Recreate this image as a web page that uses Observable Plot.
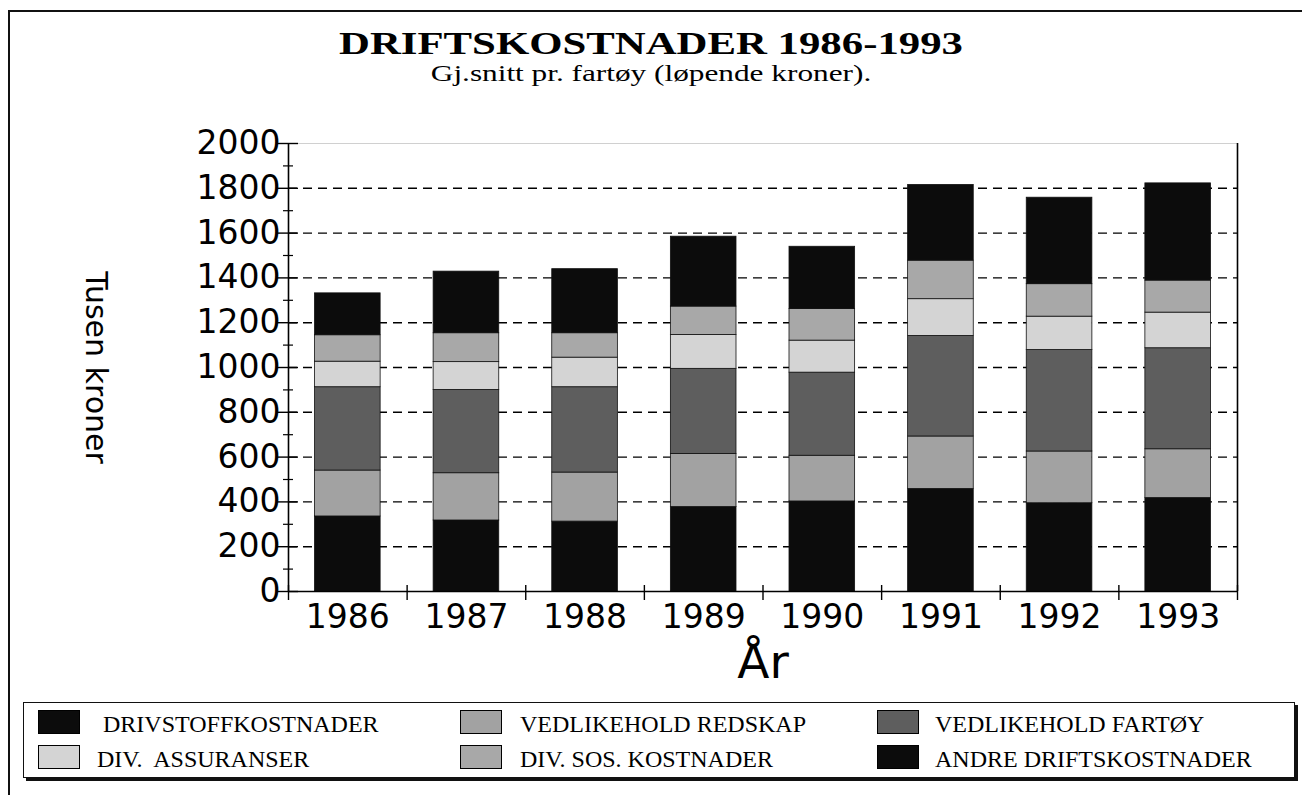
<!DOCTYPE html>
<html>
<head>
<meta charset="utf-8">
<script src="https://cdn.jsdelivr.net/npm/d3@7"></script>
<script src="https://cdn.jsdelivr.net/npm/@observablehq/plot@0.6"></script>
<style>
  html, body { margin: 0; padding: 0; background: #fff; }
  #wrap { position: relative; width: 1302px; height: 795px; overflow: hidden; }
  #outer { position: absolute; left: 8px; top: 10px; width: 1400px; height: 900px; border-left: 2px solid #111; border-top: 2px solid #111; }
  #title { position: absolute; left: 0; width: 1302px; top: 28px; text-align: center; font-family: "Liberation Serif", serif; font-weight: bold; font-size: 31px; line-height: 1; color: #000; transform: scaleX(1.38); transform-origin: 651px 0; }
  #subtitle { position: absolute; left: 0; width: 1302px; top: 62px; text-align: center; font-family: "Liberation Serif", serif; font-size: 23px; line-height: 1; color: #000; transform: scaleX(1.36); transform-origin: 651px 0; }
  #chart { position: absolute; left: 0; top: 0; }
  #chart svg { overflow: visible; }
  #legend { position: absolute; left: 23px; top: 702px; width: 1270px; height: 74px; border: 1.5px solid #111; box-shadow: 3px 3px 0 #111; background: #fff; }
  .sw { position: absolute; width: 42px; height: 24px; border: 1px solid #000; box-sizing: border-box; }
  .lt { position: absolute; font-family: "Liberation Serif", serif; font-size: 24px; line-height: 1; color: #000; white-space: pre; }
</style>
</head>
<body>
<div id="wrap">
  <div id="outer"></div>
  <div id="chart"></div>
  <div id="title">DRIFTSKOSTNADER 1986-1993</div>
  <div id="subtitle">Gj.snitt pr. fartøy (løpende kroner).</div>
  <div id="legend"></div>
</div>
<script>
// ---- data (tusen kroner) ----
const years = [1986, 1987, 1988, 1989, 1990, 1991, 1992, 1993];
const seriesNames = ["DRIVSTOFFKOSTNADER", "VEDLIKEHOLD REDSKAP", "VEDLIKEHOLD FARTØY", "DIV.  ASSURANSER", "DIV. SOS. KOSTNADER", "ANDRE DRIFTSKOSTNADER"];
const drivstoff      = [335, 317, 312, 377, 402, 458, 394, 417];
const vedlikRedskap  = [205, 211, 219, 237, 204, 234, 231, 218];
const vedlikFartoy   = [372, 372, 381, 380, 371, 449, 453, 451];
const assuranser     = [114, 124, 132, 151, 143, 164, 149, 159];
const sosKostnader   = [118, 129, 109, 127, 141, 172, 145, 143];
const andre          = [187, 275, 286, 312, 278, 338, 386, 434];
const seriesColors = ["#0c0c0c", "#a2a2a2", "#5e5e5e", "#d4d4d4", "#a8a8a8", "#0c0c0c"];
const yMajorTicks = [0, 200, 400, 600, 800, 1000, 1200, 1400, 1600, 1800, 2000];
const yMinorTicks = [100, 300, 500, 700, 900, 1100, 1300, 1500, 1700, 1900];
const gridValues = [200, 400, 600, 800, 1000, 1200, 1400, 1600, 1800];

const seriesValues = [drivstoff, vedlikRedskap, vedlikFartoy, assuranser, sosKostnader, andre];
const rows = [];
years.forEach((yr, i) => {
  seriesNames.forEach((s, j) => rows.push({year: yr, series: s, value: seriesValues[j][i]}));
});
const bounds = [years[0] - 0.5, ...years.map(y => y + 0.5)];

const sans = "DejaVu Sans, Liberation Sans, sans-serif";
const chart = Plot.plot({
  width: 1302,
  height: 795,
  marginLeft: 288,
  marginRight: 65,
  marginTop: 143,
  marginBottom: 204,
  style: {fontFamily: sans, background: "transparent", color: "#000"},
  x: {domain: [years[0] - 0.5, years[years.length - 1] + 0.5], axis: null},
  y: {domain: [0, 2000], axis: null},
  color: {type: "ordinal", domain: seriesNames, range: seriesColors},
  marks: [
    Plot.ruleY(gridValues, {stroke: "#000", strokeWidth: 1.4, strokeDasharray: "9,6"}),
    Plot.rectY(rows, {
      x1: d => d.year - 0.5, x2: d => d.year + 0.5, y: "value", fill: "series",
      stroke: "#111", strokeWidth: 0.8, insetLeft: 26.5, insetRight: 26.5
    }),
    Plot.ruleY([2000], {stroke: "#d0d0d0", strokeWidth: 1}),
    Plot.ruleX([bounds[0], bounds[bounds.length - 1]], {y1: 0, y2: 2000, stroke: "#000", strokeWidth: 1.6}),
    Plot.ruleY([0], {stroke: "#000", strokeWidth: 1.6}),
    Plot.axisY({ticks: yMajorTicks, tickSize: 21, dx: 10, tickFormat: () => "", label: null, strokeWidth: 1.4}),
    Plot.axisY({ticks: yMinorTicks, tickSize: 10, dx: 5, tickFormat: () => "", label: null, strokeWidth: 1.2}),
    Plot.axisY({ticks: yMajorTicks, tickSize: 0, tickPadding: 8, fontSize: 33, tickFormat: d => String(d), label: null}),
    Plot.axisX({ticks: bounds, tickSize: 15, dy: -6, tickFormat: () => "", label: null, strokeWidth: 1.4}),
    Plot.axisX({ticks: years, tickSize: 0, tickPadding: 13, fontSize: 33, tickFormat: d => String(d), label: null}),
    Plot.text(["År"], {frameAnchor: "bottom", lineAnchor: "bottom", dy: 86, fontSize: 47, fontFamily: sans}),
    Plot.text(["Tusen kroner"], {frameAnchor: "left", textAnchor: "middle", dx: -193, rotate: 90, fontSize: 30, fontFamily: sans})
  ]
});
document.getElementById("chart").appendChild(chart);

// ---- legend ----
const legend = document.getElementById("legend");
const swX = [14, 436, 853];
const txX = [[79, 496, 911], [73, 496, 911]];
const swY = [7, 42];
const txY = [9, 44];
seriesNames.forEach((s, j) => {
  const c = j % 3, r = Math.floor(j / 3);
  const sw = document.createElement("div");
  sw.className = "sw";
  sw.style.left = swX[c] + "px";
  sw.style.top = swY[r] + "px";
  sw.style.background = seriesColors[j];
  legend.appendChild(sw);
  const t = document.createElement("div");
  t.className = "lt";
  t.textContent = s;
  t.style.left = txX[r][c] + "px";
  t.style.top = txY[r] + "px";
  legend.appendChild(t);
});
</script>
</body>
</html>
